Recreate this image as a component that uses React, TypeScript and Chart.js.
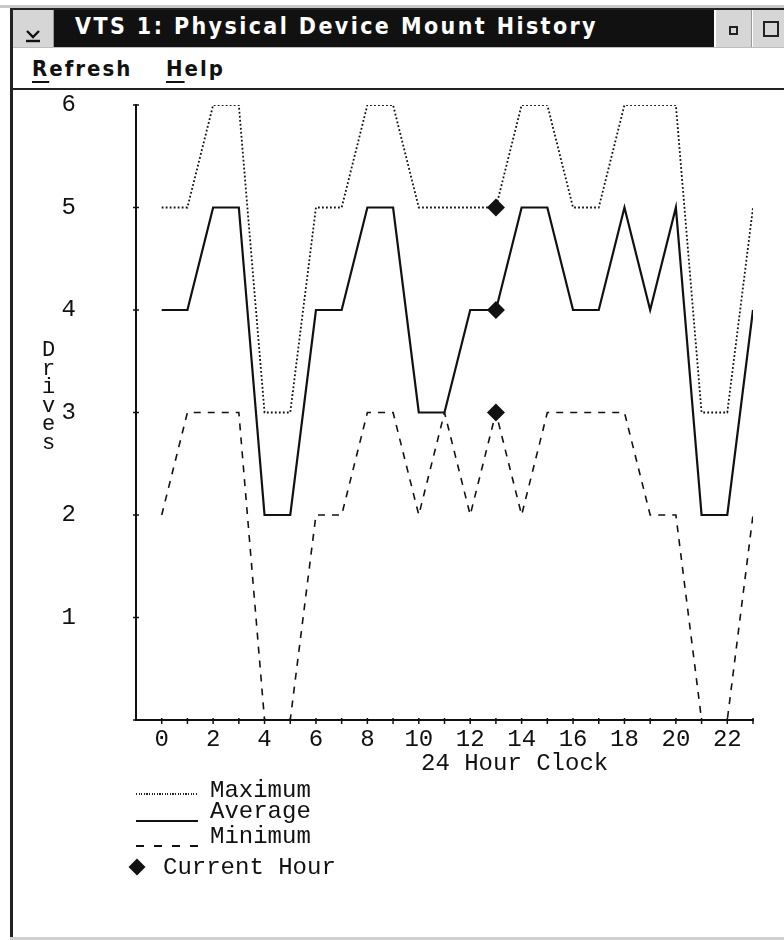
import React, { useEffect, useRef } from 'react';
import { Chart, registerables } from 'chart.js';

Chart.register(...registerables);

// ---- data ----
const hours = [0, 1, 2, 3, 4, 5, 6, 7, 8, 9, 10, 11, 12, 13, 14, 15, 16, 17, 18, 19, 20, 21, 22, 23];
const maxDrives = [5, 5, 6, 6, 3, 3, 5, 5, 6, 6, 5, 5, 5, 5, 6, 6, 5, 5, 6, 6, 6, 3, 3, 5];
const avgDrives = [4, 4, 5, 5, 2, 2, 4, 4, 5, 5, 3, 3, 4, 4, 5, 5, 4, 4, 5, 4, 5, 2, 2, 4];
const minDrives = [2, 3, 3, 3, 0, 0, 2, 2, 3, 3, 2, 3, 2, 3, 2, 3, 3, 3, 3, 2, 2, 0, 0, 2];
const currentHour = 13;
const xLabelHours = [0, 2, 4, 6, 8, 10, 12, 14, 16, 18, 20, 22];
const yTicks = [0, 1, 2, 3, 4, 5, 6];
const yLabelValues = [1, 2, 3, 4, 5, 6];
const legendLabels = ['Maximum', 'Average', 'Minimum', 'Current Hour'];
const windowTitle = 'VTS 1: Physical Device Mount History';
const menuItems = ['Refresh', 'Help'];
const xTitle = '24 Hour Clock';
const yTitle = 'Drives';

const INK = '#111111';
const MONO = '"Liberation Mono", "DejaVu Sans Mono", monospace';
const SANS = '"DejaVu Sans Condensed", "DejaVu Sans", sans-serif';

const toPoints = (vals: number[]) => hours.map((h, i) => ({ x: h, y: vals[i] }));

const tickMarks = {
  id: 'tickMarks',
  afterDraw(chart: any) {
    const { ctx, chartArea, scales } = chart;
    ctx.save();
    ctx.strokeStyle = INK;
    ctx.lineWidth = 1.5;
    yTicks.forEach((v) => {
      const y = scales.y.getPixelForValue(v);
      ctx.beginPath();
      ctx.moveTo(chartArea.left - 3, y);
      ctx.lineTo(chartArea.left + 3, y);
      ctx.stroke();
    });
    hours.forEach((h) => {
      const x = scales.x.getPixelForValue(h);
      ctx.beginPath();
      ctx.moveTo(x, chartArea.bottom - 2);
      ctx.lineTo(x, chartArea.bottom + 4);
      ctx.stroke();
    });
    ctx.restore();
  },
};

function MountChart() {
  const ref = useRef<HTMLCanvasElement | null>(null);
  useEffect(() => {
    if (!ref.current) return;
    const idx = hours.indexOf(currentHour);
    const chart = new Chart(ref.current, {
      type: 'line',
      data: {
        datasets: [
          {
            label: legendLabels[0],
            data: toPoints(maxDrives),
            borderColor: INK,
            borderWidth: 1.8,
            borderDash: [1.8, 2.2],
            pointRadius: 0,
            tension: 0,
          },
          {
            label: legendLabels[1],
            data: toPoints(avgDrives),
            borderColor: INK,
            borderWidth: 2.2,
            pointRadius: 0,
            tension: 0,
          },
          {
            label: legendLabels[2],
            data: toPoints(minDrives),
            borderColor: INK,
            borderWidth: 1.6,
            borderDash: [7, 7],
            pointRadius: 0,
            tension: 0,
          },
          {
            label: legendLabels[3],
            data: [
              { x: currentHour, y: maxDrives[idx] },
              { x: currentHour, y: avgDrives[idx] },
              { x: currentHour, y: minDrives[idx] },
            ],
            showLine: false,
            pointStyle: 'rectRot',
            pointRadius: 9,
            pointBackgroundColor: INK,
            pointBorderWidth: 0,
            borderColor: INK,
          },
        ],
      },
      options: {
        animation: false,
        responsive: false,
        devicePixelRatio: 1,
        layout: { padding: { left: 0, right: 31, top: 13, bottom: 0 } },
        plugins: { legend: { display: false }, tooltip: { enabled: false } },
        scales: {
          x: {
            type: 'linear',
            min: -1,
            max: 23,
            afterBuildTicks: (s: any) => {
              s.ticks = hours.map((v) => ({ value: v }));
            },
            afterFit: (s: any) => {
              s.height = 218;
              s.paddingLeft = 0;
              s.paddingRight = 0;
            },
            ticks: {
              autoSkip: false,
              maxRotation: 0,
              padding: 8,
              color: INK,
              font: { family: MONO, size: 24, lineHeight: 1 },
              callback: (v: any) => (xLabelHours.includes(Number(v)) ? String(v) : ''),
            },
            grid: { display: true, drawOnChartArea: false, drawTicks: false },
            border: { display: true, color: INK, width: 2 },
          },
          y: {
            min: 0,
            max: 6,
            afterFit: (s: any) => {
              s.width = 122;
              s.paddingTop = 0;
              s.paddingBottom = 0;
            },
            ticks: {
              stepSize: 1,
              padding: 60,
              color: INK,
              font: { family: MONO, size: 24, lineHeight: 1 },
              callback: (v: any) => (yLabelValues.includes(Number(v)) ? String(v) : ''),
            },
            grid: { display: true, drawOnChartArea: false, drawTicks: false },
            border: { display: true, color: INK, width: 2 },
          },
        },
      },
      plugins: [tickMarks],
    });
    return () => chart.destroy();
  }, []);
  return <canvas ref={ref} width={770} height={846} style={{ width: 770, height: 846, display: 'block' }} />;
}

const abs = (l: number, t: number, w?: number, h?: number): React.CSSProperties => ({
  position: 'absolute',
  left: l,
  top: t,
  ...(w !== undefined ? { width: w } : {}),
  ...(h !== undefined ? { height: h } : {}),
});

export default function App() {
  const monoText: React.CSSProperties = {
    fontFamily: MONO,
    fontSize: 24,
    lineHeight: '24px',
    color: INK,
    whiteSpace: 'pre',
  };
  const menuText: React.CSSProperties = {
    fontFamily: SANS,
    fontWeight: 'bold',
    fontSize: 22,
    lineHeight: '22px',
    letterSpacing: 2,
    color: INK,
    whiteSpace: 'pre',
  };
  return (
    <div style={{ position: 'absolute', left: 0, top: 0, width: 784, height: 940, background: '#fff', overflow: 'hidden' }}>
      {/* window frame */}
      <div style={{ ...abs(0, 5, 784, 3), background: '#c8c8c8' }} />
      <div style={{ ...abs(10, 8, 774, 2), background: '#222' }} />
      <div style={{ ...abs(10, 8, 3, 930), background: '#222' }} />
      <div style={{ ...abs(10, 937, 774, 3), background: '#cfcfcf' }} />
      {/* system menu button */}
      <div style={{ ...abs(13, 10, 40, 37), background: '#d6d6d6', borderRight: '1px solid #999' }}>
        <svg width={40} height={37} style={{ display: 'block' }}>
          <polyline points="14,21 20,27 26,21" fill="none" stroke="#111" strokeWidth={2.4} />
          <line x1={13} y1={31} x2={27} y2={31} stroke="#111" strokeWidth={2.4} />
        </svg>
      </div>
      {/* title bar */}
      <div style={{ ...abs(54, 10, 660, 37), background: '#111' }} />
      <div
        style={{
          ...abs(75, 15),
          fontFamily: SANS,
          fontWeight: 'bold',
          fontSize: 23,
          lineHeight: '23px',
          letterSpacing: 2.4,
          color: '#fff',
          whiteSpace: 'pre',
        }}
      >
        {windowTitle}
      </div>
      {/* min / max buttons */}
      <div style={{ ...abs(716, 10, 35, 37), background: '#d6d6d6', borderRight: '1px solid #999' }}>
        <div style={{ ...abs(13, 16, 5, 5), border: '2px solid #222' }} />
      </div>
      <div style={{ ...abs(753, 10, 31, 37), background: '#d6d6d6' }}>
        <div style={{ ...abs(10, 11, 12, 12), border: '2px solid #222' }} />
      </div>
      <div style={{ ...abs(13, 47, 771, 1), background: '#bdbdbd' }} />
      {/* menu bar */}
      <div style={{ ...abs(32, 58), ...menuText }}>
        <span style={{ textDecoration: 'underline', textUnderlineOffset: '5px', textDecorationThickness: '2px' }}>
          {menuItems[0].charAt(0)}
        </span>
        {menuItems[0].slice(1)}
      </div>
      <div style={{ ...abs(166, 58), ...menuText }}>
        <span style={{ textDecoration: 'underline', textUnderlineOffset: '5px', textDecorationThickness: '2px' }}>
          {menuItems[1].charAt(0)}
        </span>
        {menuItems[1].slice(1)}
      </div>
      <div style={{ ...abs(13, 88, 771, 2), background: '#222' }} />

      {/* chart */}
      <div style={{ ...abs(14, 92, 770, 846) }}>
        <MountChart />
      </div>

      {/* y axis title (stacked letters) */}
      <div style={{ ...abs(41, 342, 15), fontFamily: MONO, fontSize: 22, lineHeight: '18.5px', color: INK, textAlign: 'center' }}>
        {yTitle.split('').map((c, i) => (
          <div key={i}>{c}</div>
        ))}
      </div>
      {/* x axis title */}
      <div style={{ ...abs(421, 752), ...monoText }}>{xTitle}</div>

      {/* legend */}
      <div
        style={{
          ...abs(136, 793, 62, 1.5),
          background: 'repeating-linear-gradient(to right, #222 0 1.2px, transparent 1.2px 2.6px)',
        }}
      />
      <div style={{ ...abs(210, 779), ...monoText }}>{legendLabels[0]}</div>
      <div style={{ ...abs(136, 820, 62, 2), background: INK }} />
      <div style={{ ...abs(210, 800), ...monoText }}>{legendLabels[1]}</div>
      <div
        style={{
          ...abs(136, 845, 62, 2),
          background: 'repeating-linear-gradient(to right, #111 0 8px, transparent 8px 18px)',
        }}
      />
      <div style={{ ...abs(210, 825), ...monoText }}>{legendLabels[2]}</div>
      <div style={{ ...abs(131, 861, 12, 12), background: INK, transform: 'rotate(45deg)' }} />
      <div style={{ ...abs(163, 856), ...monoText }}>{legendLabels[3]}</div>
    </div>
  );
}
